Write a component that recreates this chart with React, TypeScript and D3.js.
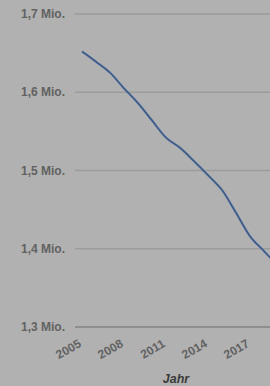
import * as d3 from "d3";
import React, { useEffect, useRef } from "react";

const years = [2005, 2006, 2007, 2008, 2009, 2010, 2011, 2012, 2013, 2014, 2015, 2016, 2017, 2018, 2019];
const values = [1.652, 1.639, 1.625, 1.605, 1.586, 1.564, 1.542, 1.529, 1.512, 1.494, 1.475, 1.446, 1.416, 1.397, 1.378];
const xTicks = [2005, 2008, 2011, 2014, 2017];
const yTicks = [1.3, 1.4, 1.5, 1.6, 1.7];
const xTitle = "Jahr";

const App: React.FC = () => {
  const svgRef = useRef<SVGSVGElement | null>(null);

  useEffect(() => {
    if (!svgRef.current) return;
    const width = 270;
    const height = 386;

    const x = d3.scaleLinear().domain([2005, 2019]).range([82, 278]);
    const y = d3.scaleLinear().domain([1.3, 1.7]).range([327, 14]);

    const svg = d3.select(svgRef.current);
    svg.selectAll("*").remove();
    svg.attr("width", width).attr("height", height).style("font-family", "Liberation Sans, Arial, sans-serif");

    svg.append("rect").attr("width", width).attr("height", height).attr("fill", "#b1b1b1");

    // grid
    const grid = svg.append("g");
    grid
      .selectAll("line")
      .data(yTicks)
      .join("line")
      .attr("x1", 75)
      .attr("x2", width)
      .attr("y1", (d) => y(d))
      .attr("y2", (d) => y(d))
      .attr("stroke", (d) => (d === 1.3 ? "#8f8f8f" : "#9b9b9b"))
      .attr("stroke-width", (d) => (d === 1.3 ? 2 : 1.3));

    grid
      .selectAll("text")
      .data(yTicks)
      .join("text")
      .attr("x", 65)
      .attr("y", (d) => y(d))
      .attr("dy", "0.35em")
      .attr("text-anchor", "end")
      .attr("font-size", 12)
      .attr("font-weight", "bold")
      .attr("fill", "#626262")
      .text((d) => `${d3.format(".1f")(d).replace(".", ",")} Mio.`);

    // x labels
    svg
      .append("g")
      .selectAll("text")
      .data(xTicks)
      .join("text")
      .attr("transform", (d) => `translate(${x(d)},${346}) rotate(-30)`)
      .attr("text-anchor", "end")
      .attr("font-size", 12)
      .attr("font-weight", "bold")
      .attr("fill", "#626262")
      .text((d) => d);

    svg
      .append("text")
      .attr("x", 176)
      .attr("y", 383)
      .attr("text-anchor", "middle")
      .attr("font-size", 12.5)
      .attr("font-weight", "bold")
      .attr("font-style", "italic")
      .attr("fill", "#3a3a3a")
      .text(xTitle);

    const line = d3
      .line<number>()
      .x((_, i) => x(years[i]))
      .y((d) => y(d))
      .curve(d3.curveMonotoneX);

    svg
      .append("path")
      .datum(values)
      .attr("fill", "none")
      .attr("stroke", "#8ea3c4")
      .attr("stroke-width", 3)
      .attr("stroke-opacity", 0.5)
      .attr("d", line);

    svg
      .append("path")
      .datum(values)
      .attr("fill", "none")
      .attr("stroke", "#3e5a86")
      .attr("stroke-width", 1.8)
      .attr("d", line);
  }, []);

  return <svg ref={svgRef} style={{ position: "absolute", left: 0, top: 0, display: "block" }} />;
};

export default App;
